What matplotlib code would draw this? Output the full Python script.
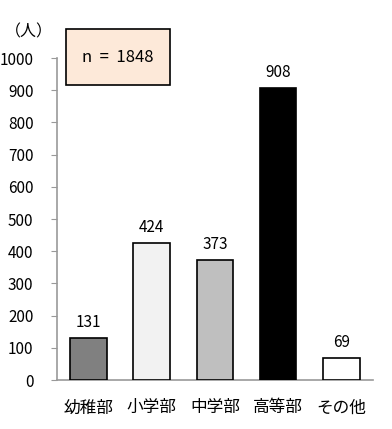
import matplotlib
matplotlib.use("Agg")
import matplotlib.pyplot as plt
from matplotlib.patches import FancyBboxPatch

plt.rcParams['font.family'] = ['Noto Sans CJK JP', 'DejaVu Sans']

categories = ["幼稚部", "小学部", "中学部", "高等部", "その他"]
values = [131, 424, 373, 908, 69]
bar_colors = ["#808080", "#f2f2f2", "#bfbfbf", "#000000", "#ffffff"]
yticks = [0, 100, 200, 300, 400, 500, 600, 700, 800, 900, 1000]
total_label = "n  =  1848"
unit_label = "（人）"

fig = plt.figure(figsize=(3.92, 4.29), dpi=100)
ax = fig.add_axes([0.1454, 0.1142, 0.806, 0.7506])

x = range(len(categories))
ax.bar(x, values, width=0.58, color=bar_colors, edgecolor="#000000", linewidth=1.2, zorder=3)
for xi, v in zip(x, values):
    ax.text(xi, v + 22, str(v), ha="center", va="bottom", fontsize=11)

ax.set_xlim(-0.5, 4.5)
ax.set_ylim(0, 1000)
ax.set_yticks(yticks)
ax.set_yticklabels([str(t) for t in yticks], fontsize=11)
ax.set_xticks(list(x))
ax.set_xticklabels(categories, fontsize=12)
ax.tick_params(axis="x", length=0, pad=14)
ax.tick_params(axis="y", length=4, color="#999999", pad=13)
for s in ["top", "right"]:
    ax.spines[s].set_visible(False)
for s in ["left", "bottom"]:
    ax.spines[s].set_color("#999999")
    ax.spines[s].set_linewidth(1.2)

fig.text(0.012, 1 - 32 / 429, unit_label, fontsize=11.5, ha="left", va="center")

box = FancyBboxPatch((66 / 392, 1 - 85 / 429), 104 / 392, 56 / 429,
                     boxstyle="square,pad=0", transform=fig.transFigure,
                     facecolor="#fde9d9", edgecolor="#000000", linewidth=1.2)
fig.patches.append(box)
fig.text(118 / 392, 1 - 58 / 429, total_label, fontsize=12, ha="center", va="center")

fig.savefig("out.png", dpi=100)
